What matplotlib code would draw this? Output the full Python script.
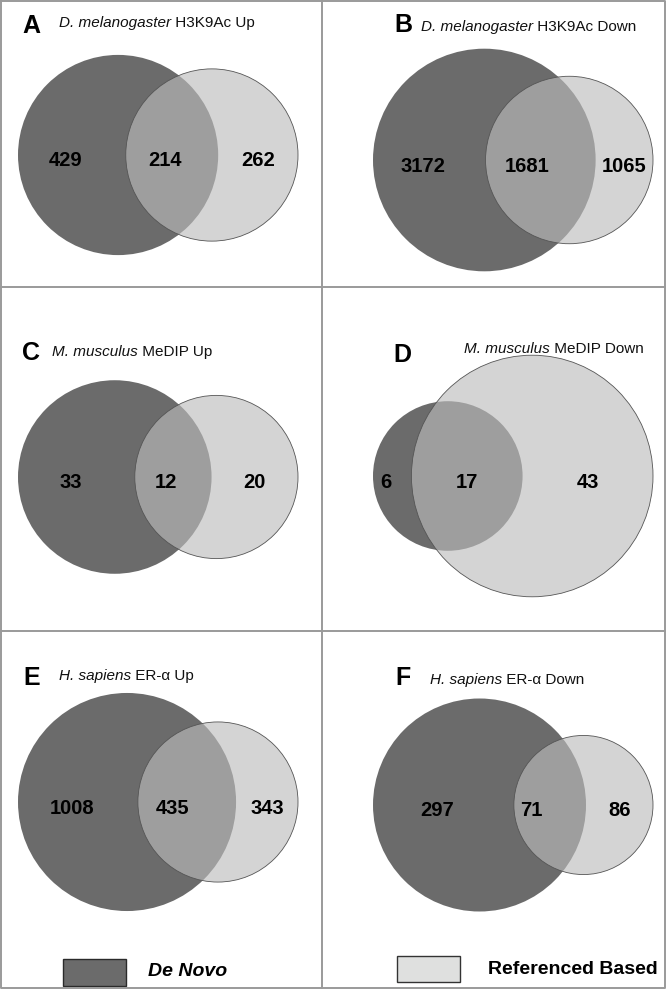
import matplotlib
matplotlib.use('Agg')
import matplotlib.pyplot as plt
import numpy as np

plt.rcParams['font.family'] = ['Liberation Sans', 'DejaVu Sans']

# counts per panel
panel_letters = ['A', 'B', 'C', 'D', 'E', 'F']
species = ['D. melanogaster', 'D. melanogaster', 'M. musculus',
           'M. musculus', 'H. sapiens', 'H. sapiens']
assays = ['H3K9Ac Up', 'H3K9Ac Down', 'MeDIP Up', 'MeDIP Down',
          'ER-α Up', 'ER-α Down']
de_novo_only = [429, 3172, 33, 6, 1008, 297]
shared = [214, 1681, 12, 17, 435, 71]
ref_only = [262, 1065, 20, 43, 343, 86]
legend_labels = ['De Novo', 'Referenced Based']

DARK = '#6b6b6b'
LIGHT = '#bcbcbc'
LINE = '#9a9a9a'


def lens_area(d, r1, r2):
    if d >= r1 + r2:
        return 0.0
    if d <= abs(r1 - r2):
        return np.pi * min(r1, r2) ** 2
    a1 = np.arccos((d * d + r1 * r1 - r2 * r2) / (2 * d * r1))
    a2 = np.arccos((d * d + r2 * r2 - r1 * r1) / (2 * d * r2))
    k = np.sqrt((-d + r1 + r2) * (d + r1 - r2) * (d - r1 + r2) * (d + r1 + r2))
    return r1 * r1 * a1 + r2 * r2 * a2 - 0.5 * k


def solve_distance(r1, r2, area):
    # area-proportional: bisect the centre distance until the lens matches
    lo, hi = abs(r1 - r2), r1 + r2
    for _ in range(80):
        mid = 0.5 * (lo + hi)
        if lens_area(mid, r1, r2) > area:
            lo = mid
        else:
            hi = mid
    return 0.5 * (lo + hi)


# layout (pixels)
diagram_width = 280
right_edge = [298, 653, 298, 653, 298, 653]
centre_y = [155, 160, 477, 476, 802, 805]
letter_pos = [(22, 33), (394, 32), (22, 360), (393, 362), (23, 685), (395, 685)]
title_pos = [(59, 27), (421, 31), (52, 356), (464, 353), (59, 680), (430, 684)]

fig = plt.figure(figsize=(6.67, 9.9), dpi=100)
ax = fig.add_axes([0, 0, 1, 1])
ax.set_xlim(0, 667)
ax.set_ylim(990, 0)
ax.axis('off')

for i in range(6):
    n1 = de_novo_only[i] + shared[i]
    n2 = ref_only[i] + shared[i]
    r1 = np.sqrt(n1 / np.pi)
    r2 = np.sqrt(n2 / np.pi)
    d = solve_distance(r1, r2, shared[i])
    left = min(-r1, d - r2)
    right = max(r1, d + r2)
    s = diagram_width / (right - left)
    x1 = right_edge[i] - right * s
    x2 = x1 + d * s
    R1, R2 = r1 * s, r2 * s
    cy = centre_y[i]

    ax.add_patch(plt.Circle((x1, cy), R1, facecolor=DARK, edgecolor='none', zorder=2))
    ax.add_patch(plt.Circle((x2, cy), R2, facecolor=LIGHT, alpha=0.63,
                            edgecolor='none', zorder=3))
    ax.add_patch(plt.Circle((x2, cy), R2, facecolor='none', edgecolor='#555555',
                            linewidth=0.6, zorder=4))

    # region labels
    lab1 = ((x1 - R1) + (x2 - R2)) / 2 - 6
    lab12 = min((x1 + x2) / 2, ((x2 - R2) + (x1 + R1)) / 2)
    lab2 = ((x1 + R1) + (x2 + R2)) / 2
    for x, v in zip([lab1, lab12, lab2], [de_novo_only[i], shared[i], ref_only[i]]):
        ax.text(x, cy + 6, str(v), ha='center', va='center', fontsize=14.5,
                fontweight='bold', color='black', zorder=5)

    lx, ly = letter_pos[i]
    ax.text(lx, ly, panel_letters[i], ha='left', va='baseline', fontsize=18,
            fontweight='heavy', color='black')
    tx, ty = title_pos[i]
    t = ax.text(tx, ty, species[i], ha='left', va='baseline', fontsize=11,
                fontstyle='italic', color='#111111')
    fig.canvas.draw()
    bb = t.get_window_extent(renderer=fig.canvas.get_renderer())
    x_end = ax.transData.inverted().transform((bb.x1, bb.y0))[0]
    ax.text(x_end, ty, ' ' + assays[i], ha='left', va='baseline', fontsize=11,
            color='#111111')

# panel frame
ax.plot([1, 665, 665, 1, 1], [1, 1, 988, 988, 1], color=LINE, linewidth=1.4, zorder=6)
ax.plot([322, 322], [1, 988], color=LINE, linewidth=1.4, zorder=6)
for y in [287, 631]:
    ax.plot([1, 665], [y, y], color=LINE, linewidth=1.4, zorder=6)

# legend
ax.add_patch(plt.Rectangle((63, 959), 63, 27, facecolor=DARK, edgecolor='#2a2a2a',
                           linewidth=1.0, zorder=5))
ax.text(148, 972, legend_labels[0], ha='left', va='center', fontsize=14,
        fontweight='bold', fontstyle='italic', color='black')
ax.add_patch(plt.Rectangle((397, 956), 63, 26, facecolor='#dfe0df', edgecolor='#333333',
                           linewidth=1.0, zorder=5))
ax.text(488, 969, legend_labels[1], ha='left', va='center', fontsize=14,
        fontweight='bold', color='black')

fig.savefig('out.png', dpi=100)
